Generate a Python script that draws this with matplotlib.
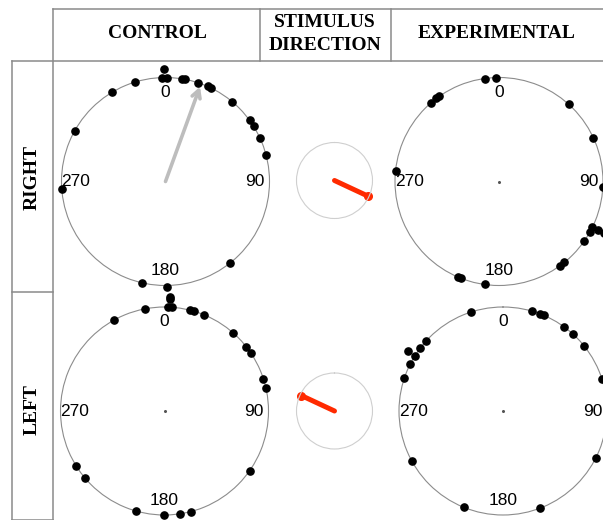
import matplotlib
matplotlib.use("Agg")
from matplotlib import pyplot as plt
import numpy as np

# dados: angulos (graus, sentido horario a partir do norte) e raio relativo (1 = no circulo, >1 = empilhado)
ctrl_dir_ang = [359, 358, 1, 9, 11, 18.5, 24, 26, 40, 54, 58, 65, 75, 142, 179, 178, 193, 266, 299, 329, 343]
ctrl_dir_r = [1.08, 1, 1, 1, 1, 1, 1, 1, 1, 1, 1, 1, 1, 1, 1.01, 1.11, 1, 1, 1, 1, 1]
ctrl_dir_media = 20  # vetor medio (seta cinza)

exp_dir_ang = [352, 358.5, 319, 323, 325, 42, 65, 276, 93, 116, 119, 116, 116, 125, 141, 144, 188, 201.5, 203]
exp_dir_r = [1, 1, 1, 1, 1, 1, 1, 1, 1, 1, 1, 1.06, 1.12, 1, 1, 1, 1, 1, 1]

ctrl_esq_ang = [3, 2, 4, 349, 331, 14, 16.5, 22.5, 41, 52, 56, 72, 77, 125, 165.5, 171.5, 180.5, 196, 230, 238]
ctrl_esq_r = [1.08, 1, 1, 1, 1, 1, 1, 1, 1, 1, 1, 1, 1, 1, 1, 1, 1, 1, 1, 1]

exp_esq_ang = [342, 16, 21, 23, 36, 42, 51, 72, 117, 159, 202, 241, 288.5, 297, 302, 302, 307, 312]
exp_esq_r = [1, 1, 1, 1, 1, 1, 1, 1, 1, 1, 1, 1, 1, 1, 1.08, 1, 1, 1]

estimulo = {"RIGHT": 115, "LEFT": 295}

colunas = ["CONTROL", "STIMULUS\nDIRECTION", "EXPERIMENTAL"]
linhas = ["RIGHT", "LEFT"]
rotulos = [0, 90, 180, 270]

W, H = 603, 520
fig = plt.figure(figsize=(W / 100, H / 100), dpi=100)

# fundo com coordenadas em pixels para a tabela
bg = fig.add_axes([0, 0, 1, 1])
bg.set_xlim(0, W)
bg.set_ylim(H, 0)
bg.axis("off")
cor_linha = "#8a8a8a"
bg.plot([53, W], [8.5, 8.5], color=cor_linha, lw=1.1)
bg.plot([11.5, W], [61, 61], color=cor_linha, lw=1.1)
bg.plot([53, 53], [8.5, 519.5], color=cor_linha, lw=1.1)
bg.plot([260, 260], [8.5, 61], color=cor_linha, lw=1.1)
bg.plot([391, 391], [8.5, 61], color=cor_linha, lw=1.1)
bg.plot([11.5, 11.5], [61, 519.5], color=cor_linha, lw=1.1)
bg.plot([11.5, 53], [292, 292], color=cor_linha, lw=1.1)
bg.plot([11.5, 53], [519.5, 519.5], color=cor_linha, lw=1.1)

serif = ["Liberation Serif", "DejaVu Serif"]
for txt, x in zip(colunas, [157, 325, 497]):
    bg.text(x, 34, txt, ha="center", va="center", fontsize=14, fontweight="bold",
            family=serif, linespacing=1.45)
for txt, y in zip(linhas, [177, 410]):
    bg.text(32, y, txt, ha="center", va="center", rotation=90, fontsize=14,
            fontweight="bold", family=serif)


def polar_em(cx, cy, r, cor="#8c8c8c"):
    ax = fig.add_axes([(cx - r) / W, 1 - (cy + r) / H, 2 * r / W, 2 * r / H], projection="polar")
    ax.set_theta_zero_location("N")
    ax.set_theta_direction(-1)
    ax.set_ylim(0, 1)
    ax.set_xticks([])
    ax.set_yticks([])
    ax.grid(False)
    ax.patch.set_alpha(0)
    ax.spines["polar"].set_color(cor)
    ax.spines["polar"].set_linewidth(0.8)
    return ax


def painel(cx, cy, ang, rr, centro=True):
    ax = polar_em(cx, cy, 104)
    for a in rotulos:
        ax.text(np.deg2rad(a), 0.86, str(a), ha="center", va="center", fontsize=12.5,
                family="Liberation Sans")
    if centro:
        ax.plot(0, 0, "o", color="#555555", ms=1.2)
    ax.plot(np.deg2rad(ang), rr, "o", color="black", ms=5.2, clip_on=False, zorder=5)
    return ax


ax1 = painel(165.5, 181.5, ctrl_dir_ang, ctrl_dir_r, centro=False)
ax1.annotate("", xy=(np.deg2rad(ctrl_dir_media), 0.97), xytext=(0, 0),
             arrowprops=dict(arrowstyle="->,head_length=0.55,head_width=0.3",
                             color="#bdbdbd", lw=2.6, shrinkA=0, shrinkB=0))
painel(499, 181.5, exp_dir_ang, exp_dir_r)
painel(164.5, 411, ctrl_esq_ang, ctrl_esq_r)
painel(503, 411, exp_esq_ang, exp_esq_r)

for nome, cy in zip(linhas, [180.5, 411]):
    ax = polar_em(334.5, cy, 38, cor="#cfcfcf")
    t = np.deg2rad(estimulo[nome])
    ax.plot([t, t], [0, 0.96], color="#ff2a00", lw=3.6, solid_capstyle="round", clip_on=False)
    ax.plot(t, 0.96, "o", color="#ff2a00", ms=5.5, clip_on=False)

fig.savefig("out.png", dpi=100)
